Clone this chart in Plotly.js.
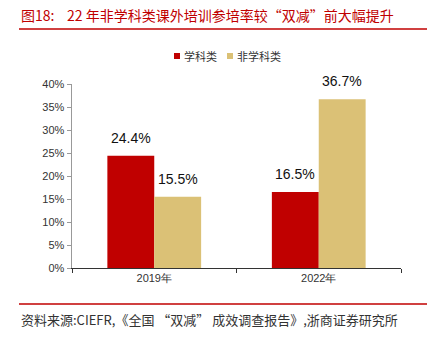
<!DOCTYPE html>
<html><head><meta charset="utf-8">
<script src="https://cdn.plot.ly/plotly-3.0.1.min.js"></script>
<style>html,body{margin:0;padding:0;background:#fff}#c{width:427px;height:347px}</style>
</head><body><div id="c"></div>
<script>
const categories = ['2019年', '2022年'];
const seriesNames = ['学科类', '非学科类'];
const academic = [24.4, 16.5];
const nonAcademic = [15.5, 36.7];
const yTicks = [0, 5, 10, 15, 20, 25, 30, 35, 40];
const titleText = '图18:    22 年非学科类课外培训参培率较“双减”前大幅提升';
const sourceText = '资料来源:CIEFR,《全国 “双减” 成效调查报告》,浙商证券研究所';

const RED = '#C00000', TAN = '#DBC176';
const L = 72, R = 401, T = 84, B = 268;
const px = x => (x - L) / (R - L);
const py = y => (B - y) / (B - T);
const CJK = '"Noto Sans CJK SC", "Noto Sans", sans-serif';
const LBL = {family: 'Liberation Sans, Arial', size: 14, color: '#111'};

const traces = [
  {type: 'bar', x: categories, y: academic, name: seriesNames[0], marker: {color: RED}},
  {type: 'bar', x: categories, y: nonAcademic, name: seriesNames[1], marker: {color: TAN}}
];

const valueLabels = [];
[[academic, -23.5], [nonAcademic, 23.5]].forEach(([vals, dx]) => {
  vals.forEach((v, i) => valueLabels.push({
    xref: 'x', yref: 'y', x: categories[i], y: v, xshift: dx, yshift: 8,
    xanchor: 'center', yanchor: 'bottom', showarrow: false,
    text: v.toFixed(1) + '%', font: LBL
  }));
});

const layout = {
  width: 427, height: 347,
  margin: {l: L, r: 427 - R, t: T, b: 347 - B, pad: 0},
  paper_bgcolor: '#fff', plot_bgcolor: '#fff',
  showlegend: false,
  barmode: 'group', bargap: 0.43, bargroupgap: 0,
  font: {family: 'Liberation Sans, Arial', size: 11, color: '#333'},
  xaxis: {type: 'category', showgrid: false, showline: true, linecolor: '#333', linewidth: 1,
          ticks: 'outside', ticklen: 4, tickcolor: '#333', tickson: 'boundaries',
          tickfont: {family: 'Liberation Sans, Arial', size: 11, color: '#333'}, zeroline: false, fixedrange: true},
  yaxis: {range: [0, 40], tickvals: yTicks, ticktext: yTicks.map(v => v + '%'), showgrid: false,
          showline: true, linecolor: '#999', linewidth: 1.5, ticks: 'outside', ticklen: 4, tickcolor: '#999',
          zeroline: false, tickfont: {family: 'Liberation Sans, Arial', size: 11, color: '#333'}, fixedrange: true},
  shapes: [
    {type: 'line', xref: 'paper', yref: 'paper', x0: px(19), x1: px(427), y0: py(29), y1: py(29), line: {color: RED, width: 1.5}},
    {type: 'line', xref: 'paper', yref: 'paper', x0: px(19), x1: px(427), y0: py(304), y1: py(304), line: {color: RED, width: 1.5}},
    {type: 'rect', xref: 'paper', yref: 'paper', x0: px(174), x1: px(180), y0: py(59), y1: py(53), line: {width: 0}, fillcolor: RED},
    {type: 'rect', xref: 'paper', yref: 'paper', x0: px(227), x1: px(233), y0: py(59), y1: py(53), line: {width: 0}, fillcolor: TAN}
  ],
  annotations: valueLabels.concat([
    {xref: 'paper', yref: 'paper', x: px(19), y: py(15), xanchor: 'left', yanchor: 'middle', showarrow: false,
     text: titleText, font: {family: CJK, size: 14, color: RED}},
    {xref: 'paper', yref: 'paper', x: px(182), y: py(56), xanchor: 'left', yanchor: 'middle', showarrow: false,
     text: seriesNames[0], font: {family: CJK, size: 11, color: '#333'}},
    {xref: 'paper', yref: 'paper', x: px(235), y: py(56), xanchor: 'left', yanchor: 'middle', showarrow: false,
     text: seriesNames[1], font: {family: CJK, size: 11, color: '#333'}},
    {xref: 'paper', yref: 'paper', x: px(19), y: py(319), xanchor: 'left', yanchor: 'middle', showarrow: false,
     text: sourceText, font: {family: CJK, size: 13, color: '#333'}}
  ])
};
Plotly.newPlot('c', traces, layout, {displayModeBar: false, staticPlot: true});
</script></body></html>
